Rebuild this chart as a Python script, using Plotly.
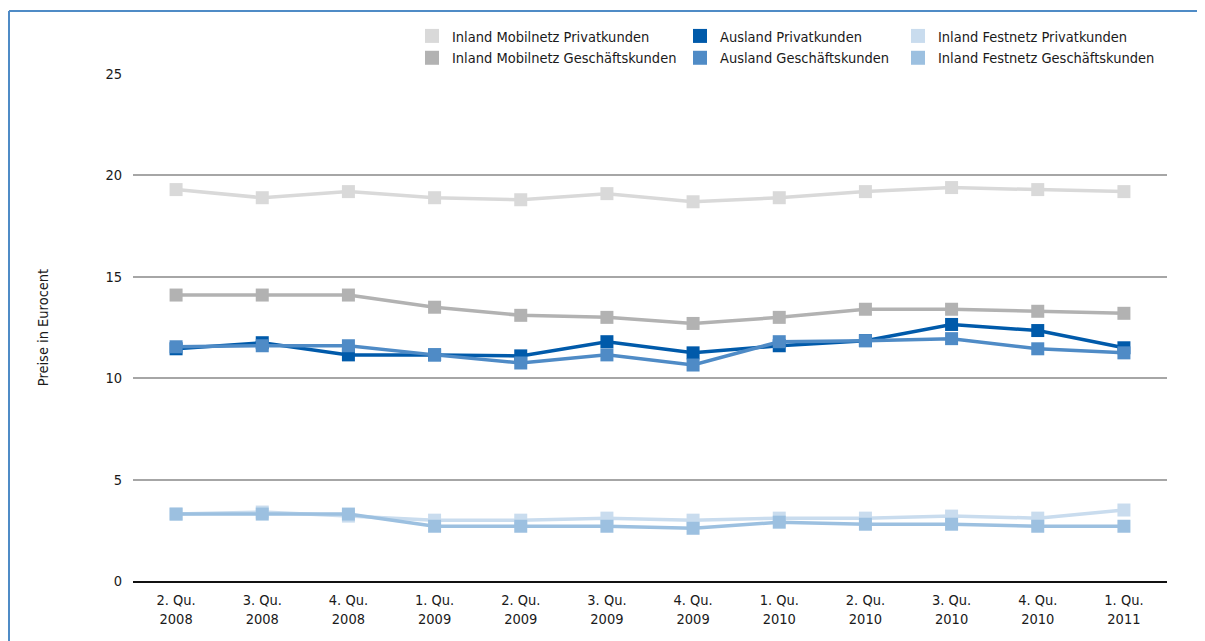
import plotly.graph_objects as go

categories = ["2. Qu.<br>2008", "3. Qu.<br>2008", "4. Qu.<br>2008", "1. Qu.<br>2009",
              "2. Qu.<br>2009", "3. Qu.<br>2009", "4. Qu.<br>2009", "1. Qu.<br>2010",
              "2. Qu.<br>2010", "3. Qu.<br>2010", "4. Qu.<br>2010", "1. Qu.<br>2011"]

mobil_privat = [19.3, 18.9, 19.2, 18.9, 18.8, 19.1, 18.7, 18.9, 19.2, 19.4, 19.3, 19.2]
mobil_geschaeft = [14.1, 14.1, 14.1, 13.5, 13.1, 13.0, 12.7, 13.0, 13.4, 13.4, 13.3, 13.2]
ausland_privat = [11.45, 11.75, 11.15, 11.15, 11.1, 11.8, 11.25, 11.6, 11.85, 12.65, 12.35, 11.5]
ausland_geschaeft = [11.55, 11.6, 11.6, 11.15, 10.75, 11.15, 10.65, 11.8, 11.85, 11.95, 11.45, 11.25]
festnetz_privat = [3.3, 3.4, 3.2, 3.0, 3.0, 3.1, 3.0, 3.1, 3.1, 3.2, 3.1, 3.5]
festnetz_geschaeft = [3.3, 3.3, 3.3, 2.7, 2.7, 2.7, 2.6, 2.9, 2.8, 2.8, 2.7, 2.7]

series = [
    ("Inland Mobilnetz Privatkunden", mobil_privat, "#d9d9d9", "legend"),
    ("Inland Mobilnetz Geschäftskunden", mobil_geschaeft, "#b2b2b2", "legend"),
    ("Ausland Privatkunden", ausland_privat, "#005aaa", "legend2"),
    ("Ausland Geschäftskunden", ausland_geschaeft, "#4f8bc6", "legend2"),
    ("Inland Festnetz Privatkunden", festnetz_privat, "#c9dcee", "legend3"),
    ("Inland Festnetz Geschäftskunden", festnetz_geschaeft, "#9cc0e0", "legend3"),
]

FONT = "DejaVu Sans Condensed, Liberation Sans Narrow, sans-serif"
TXT = "#1a1a1a"
FS = 14.5

fig = go.Figure()
for name, vals, color, lg in series:
    fig.add_trace(go.Scatter(
        x=categories, y=vals, mode="lines+markers", name=name,
        line=dict(color=color, width=3.5),
        marker=dict(symbol="square", size=13, color=color),
        showlegend=False, hoverinfo="skip"))
for name, vals, color, lg in series:
    fig.add_trace(go.Scatter(
        x=[categories[0]], y=[None], mode="markers", name=name,
        marker=dict(symbol="square", size=14, color=color),
        showlegend=True, legend=lg))

# figure sits at an 8px page offset, so it is drawn 8px smaller than the window
W, H = 1197, 633
L, R, T, B = 125, 38, 66, 60
pw, ph = W - L - R, H - T - B

def px(x):
    return (x - L) / pw

def py(y):
    return (H - B - y) / ph

legend_common = dict(orientation="v", yanchor="top", xanchor="left",
                     font=dict(family=FONT, size=FS, color=TXT),
                     bgcolor="rgba(0,0,0,0)", itemclick=False)

frame = dict(color="#4f8bc6", width=2)

fig.update_layout(
    width=W, height=H,
    margin=dict(l=L, r=R, t=T, b=B),
    paper_bgcolor="white", plot_bgcolor="white",
    font=dict(family=FONT, size=FS, color=TXT),
    legend=dict(x=px(404), y=py(12), **legend_common),
    legend2=dict(x=px(672), y=py(12), **legend_common),
    legend3=dict(x=px(890), y=py(12), **legend_common),
    xaxis=dict(type="category", range=[-0.5, 11.5], showgrid=False,
               showline=True, linecolor="#111111", linewidth=2,
               ticks="", ticklabelstandoff=5,
               tickfont=dict(family=FONT, size=FS, color=TXT),
               fixedrange=True),
    yaxis=dict(range=[0, 25], tickvals=[0, 5, 10, 15, 20, 25],
               showgrid=True, gridcolor="#a6a6a6", gridwidth=1.5,
               zeroline=True, zerolinecolor="#111111", zerolinewidth=2,
               ticks="", ticklabelstandoff=10,
               tickfont=dict(family=FONT, size=FS, color=TXT),
               title=dict(text="Preise in Eurocent", standoff=53,
                          font=dict(family=FONT, size=FS, color=TXT)),
               fixedrange=True),
    shapes=[
        dict(type="line", xref="paper", yref="paper",
             x0=px(1), x1=px(W + 5), y0=py(3), y1=py(3), line=frame, layer="below"),
        dict(type="line", xref="paper", yref="paper",
             x0=px(1), x1=px(1), y0=py(3), y1=py(H + 5), line=frame, layer="below"),
    ],
)

fig.write_html("out.html")
